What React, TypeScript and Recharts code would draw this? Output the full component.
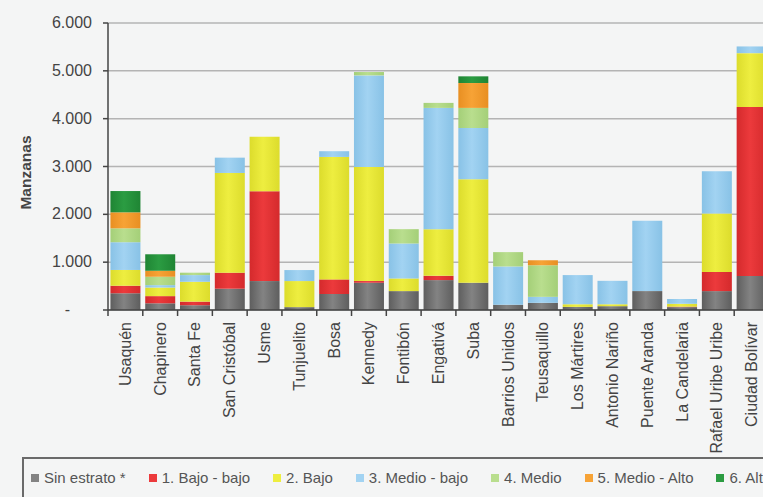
import { BarChart, Bar, XAxis, YAxis, CartesianGrid } from 'recharts';

const localidades = [
  'Usaquén', 'Chapinero', 'Santa Fe', 'San Cristóbal', 'Usme', 'Tunjuelito', 'Bosa', 'Kennedy',
  'Fontibón', 'Engativá', 'Suba', 'Barrios Unidos', 'Teusaquillo', 'Los Mártires', 'Antonio Nariño',
  'Puente Aranda', 'La Candelaria', 'Rafael Uribe Uribe', 'Ciudad Bolívar',
];

const sinEstrato = [350, 140, 100, 445, 605, 60, 335, 570, 395, 625, 570, 110, 150, 65, 80, 395, 60, 395, 710];
const bajoBajo = [157, 150, 75, 335, 1880, 0, 305, 35, 0, 90, 0, 0, 0, 0, 0, 0, 10, 400, 3535];
const bajo = [330, 180, 415, 2085, 1135, 545, 2560, 2385, 265, 975, 2165, 0, 0, 55, 40, 0, 60, 1220, 1125];
const medioBajo = [580, 50, 140, 320, 0, 230, 120, 1915, 730, 2535, 1070, 800, 125, 610, 490, 1470, 100, 885, 140];
const medio = [290, 175, 50, 0, 0, 0, 0, 70, 300, 105, 420, 300, 660, 0, 0, 0, 0, 0, 0];
const medioAlto = [335, 125, 0, 0, 0, 0, 0, 0, 0, 0, 520, 0, 105, 0, 0, 0, 0, 0, 0];
const alto = [445, 345, 0, 0, 0, 0, 0, 0, 0, 0, 140, 0, 0, 0, 0, 0, 0, 0, 0];

const yTicks = [0, 1000, 2000, 3000, 4000, 5000, 6000];

const SERIES = [
  { key: 'sin', name: 'Sin estrato *', values: sinEstrato, color: '#838383', edge: '#5e5e5e' },
  { key: 'bb', name: '1. Bajo - bajo', values: bajoBajo, color: '#ec3a3c', edge: '#d42a2c' },
  { key: 'b', name: '2. Bajo', values: bajo, color: '#eeee40', edge: '#dcdc2c' },
  { key: 'mb', name: '3. Medio - bajo', values: medioBajo, color: '#a2d3f2', edge: '#88c2e6' },
  { key: 'm', name: '4. Medio', values: medio, color: '#b9de8e', edge: '#a4cf78' },
  { key: 'ma', name: '5. Medio - Alto', values: medioAlto, color: '#f7a336', edge: '#e88f22' },
  { key: 'a', name: '6. Alto', values: alto, color: '#2b9c42', edge: '#1f8534' },
];

const data = localidades.map((name, i) => {
  const row: Record<string, string | number> = { name };
  for (const s of SERIES) row[s.key] = s.values[i];
  return row;
});

const FONT = '"Liberation Sans", Arial, sans-serif';

function fmt(v: number) {
  return v.toLocaleString('de-DE');
}

function YTick(props: any) {
  const { x, y, payload } = props;
  const v = payload.value as number;
  return (
    <text x={v === 0 ? x - 22 : x} y={y} dy={5} textAnchor="end" fontSize={16} fill="#444" fontFamily={FONT}>
      {v === 0 ? '-' : fmt(v)}
    </text>
  );
}

function XTick(props: any) {
  const { x, y, payload, width, visibleTicksCount } = props;
  const off = payload.offset ?? width / visibleTicksCount / 2;
  return (
    <g>
      <line x1={x - off} x2={x - off} y1={y} y2={y + 6} stroke="#444" strokeWidth={1.5} />
      <text
        x={x}
        y={y + 12}
        transform={`rotate(-90, ${x}, ${y + 12})`}
        textAnchor="end"
        dominantBaseline="central"
        fontSize={16}
        fill="#444"
        fontFamily={FONT}
      >
        {payload.value}
      </text>
    </g>
  );
}

function LegendBox() {
  return (
    <div
      style={{
        position: 'absolute',
        left: 22,
        top: 457,
        width: 800,
        height: 60,
        borderTop: '2px solid #6a6a6a',
        borderLeft: '2px solid #6a6a6a',
        boxSizing: 'border-box',
        display: 'flex',
        alignItems: 'flex-start',
        gap: 23,
        paddingLeft: 7,
        paddingTop: 10,
        fontFamily: FONT,
        fontSize: 15,
        lineHeight: '17px',
        color: '#555',
        whiteSpace: 'nowrap',
      }}
    >
      {SERIES.map((s) => (
        <div key={s.key} style={{ display: 'flex', alignItems: 'center' }}>
          <span style={{ width: 8, height: 8, background: s.color, marginRight: 5, display: 'inline-block' }} />
          <span>{s.name}</span>
        </div>
      ))}
    </div>
  );
}

export default function App() {
  return (
    <div
      style={{
        position: 'fixed',
        left: 0,
        top: 0,
        width: 763,
        height: 497,
        overflow: 'hidden',
        background: '#f4f5f5',
      }}
    >
      <BarChart
        width={775}
        height={497}
        data={data}
        margin={{ top: 23, right: 6, bottom: 0, left: 0 }}
        barCategoryGap="7%"
      >
        <defs>
          {SERIES.map((s) => (
            <linearGradient key={s.key} id={`g-${s.key}`} x1="0" y1="0" x2="1" y2="0">
              <stop offset="0%" stopColor={s.edge} />
              <stop offset="45%" stopColor={s.color} />
              <stop offset="100%" stopColor={s.edge} />
            </linearGradient>
          ))}
        </defs>
        <CartesianGrid vertical={false} stroke="#b4b4b4" strokeWidth={1.5} />
        <XAxis
          dataKey="name"
          interval={0}
          height={187}
          tickSize={0}
          tickMargin={0}
          tickLine={false}
          axisLine={{ stroke: '#444', strokeWidth: 1.5 }}
          tick={<XTick />}
        />
        <YAxis
          width={108}
          domain={[0, 6000]}
          ticks={yTicks}
          interval={0}
          tickSize={5}
          tickMargin={11}
          axisLine={{ stroke: '#444', strokeWidth: 1.5 }}
          tickLine={{ stroke: '#444', strokeWidth: 1.5 }}
          tick={<YTick />}
          label={{
            content: ({ viewBox }: any) => (
              <text
                x={25}
                y={viewBox.y + viewBox.height / 2 + 6}
                transform={`rotate(-90, 25, ${viewBox.y + viewBox.height / 2 + 6})`}
                textAnchor="middle"
                dominantBaseline="central"
                fontSize={15.5}
                fontWeight="bold"
                fill="#444"
                fontFamily={FONT}
              >
                Manzanas
              </text>
            ),
          }}
        />
        {SERIES.map((s) => (
          <Bar
            key={s.key}
            dataKey={s.key}
            name={s.name}
            stackId="a"
            fill={`url(#g-${s.key})`}
            isAnimationActive={false}
          />
        ))}
      </BarChart>
      <LegendBox />
    </div>
  );
}
